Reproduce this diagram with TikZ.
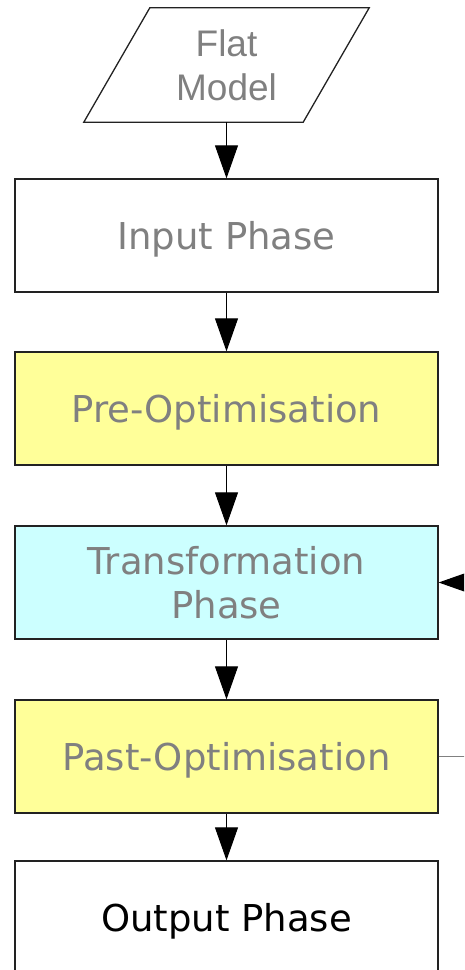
\documentclass[tikz,border=0pt]{standalone}
\usepackage{fontspec}
\setmainfont{DejaVu Sans}
\newfontfamily\arialfont{Liberation Sans}
\usetikzlibrary{arrows.meta}
\definecolor{txtgray}{HTML}{808080}
\definecolor{optyellow}{HTML}{FFFF99}
\definecolor{transcyan}{HTML}{CCFFFF}
\definecolor{edge}{HTML}{222222}
\tikzset{
  phasebox/.style={draw=edge, line width=1.3pt, minimum width=423pt, minimum height=113pt,
    inner sep=0pt, align=center, text=txtgray, text depth=0pt, font=\fontsize{37}{44}\selectfont},
  flow/.style={line width=1pt, -{Triangle[width=23pt,length=33pt]}},
}
\begin{document}
\begin{tikzpicture}[x=1pt,y=-1pt]
\useasboundingbox (0,0) rectangle (464,970);
\clip (0,0) rectangle (464,970);
% input data parallelogram
\node[minimum width=285pt, minimum height=114pt, inner sep=0pt, align=center, text=txtgray,
  font=\arialfont\fontsize{37}{44}\selectfont] (flat) at (226.5,65) {Flat\\Model};
\draw[draw=edge, line width=1.3pt] ([xshift=66pt]flat.north west) -- (flat.north east)
  -- ([xshift=-66pt]flat.south east) -- (flat.south west) -- cycle;
% processing phases
\node[phasebox, fill=white] (input) at (226.5,235.5) {Input Phase};
\node[phasebox, fill=optyellow] (pre) at (226.5,408.5) {Pre-Optimisation};
\node[phasebox, fill=transcyan] (trans) at (226.5,582.5) {Transformation\\Phase};
\node[phasebox, fill=optyellow] (past) at (226.5,756.5) {Past-Optimisation};
\node[phasebox, fill=white, text=black] (output) at (226.5,917.5) {Output Phase};
% flow between phases
\draw[flow] (flat) -- (input);
\draw[flow] (input) -- (pre);
\draw[flow] (pre) -- (trans);
\draw[flow] (trans) -- (past);
\draw[flow] (past) -- (output);
% loop back into the transformation phase
\coordinate (loopin) at (490,582.5);
\coordinate (loopout) at (490,756.5);
\draw[flow] (loopin) -- (trans.east);
\draw[txtgray, line width=1pt] (past.east) -- (loopout);
\end{tikzpicture}
\end{document}
